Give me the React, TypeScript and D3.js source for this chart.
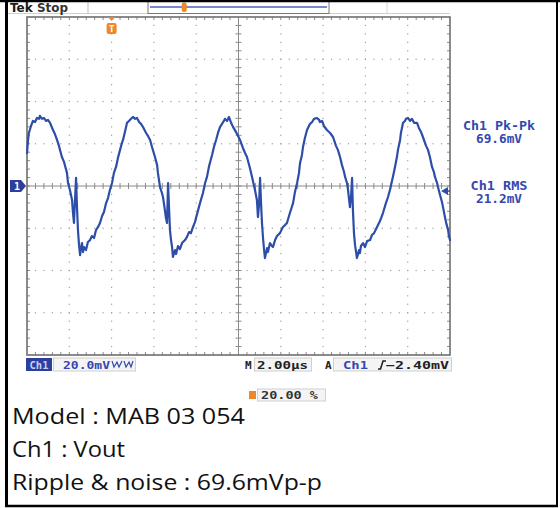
import React from "react";
import * as d3 from "d3";

// ---- data (time in µs, voltage in mV) ----
const timeUs = [
  0.0, 0.05, 0.09, 0.19, 0.28, 0.38, 0.47, 0.57, 0.61, 0.71, 0.8, 0.9, 0.99, 1.09, 1.23, 1.32, 1.42, 1.51, 1.65, 1.75,
  1.89, 1.94, 2.03, 2.13, 2.17, 2.22, 2.27, 2.32, 2.36, 2.41, 2.46, 2.51, 2.55, 2.6, 2.65, 2.7, 2.79, 2.88, 2.98, 3.07,
  3.17, 3.26, 3.36, 3.45, 3.55, 3.64, 3.74, 3.83, 3.92, 4.02, 4.11, 4.21, 4.3, 4.4, 4.49, 4.54, 4.63, 4.73, 4.82, 4.92,
  5.01, 5.11, 5.2, 5.3, 5.39, 5.48, 5.63, 5.72, 5.82, 5.91, 6.05, 6.15, 6.19, 6.29, 6.38, 6.43, 6.52, 6.57, 6.62, 6.67,
  6.71, 6.76, 6.81, 6.86, 6.9, 7.0, 7.05, 7.14, 7.23, 7.33, 7.47, 7.56, 7.66, 7.75, 7.85, 7.94, 8.04, 8.18, 8.32, 8.42,
  8.51, 8.61, 8.75, 8.84, 8.94, 9.03, 9.13, 9.22, 9.31, 9.36, 9.46, 9.55, 9.65, 9.74, 9.88, 9.98, 10.07, 10.21, 10.31, 10.4,
  10.54, 10.64, 10.78, 10.87, 10.92, 10.97, 11.02, 11.06, 11.11, 11.16, 11.21, 11.25, 11.35, 11.39, 11.49, 11.58, 11.63, 11.73, 11.82, 11.96,
  12.1, 12.2, 12.29, 12.43, 12.58, 12.67, 12.77, 12.86, 12.91, 13.0, 13.05, 13.14, 13.24, 13.33, 13.38, 13.48, 13.57, 13.71, 13.81, 13.85,
  13.95, 14.04, 14.18, 14.33, 14.47, 14.61, 14.7, 14.8, 14.89, 14.99, 15.04, 15.13, 15.18, 15.22, 15.27, 15.32, 15.37, 15.41, 15.46, 15.51,
  15.56, 15.6, 15.7, 15.74, 15.79, 15.89, 15.98, 16.08, 16.22, 16.31, 16.41, 16.55, 16.69, 16.83, 16.97, 17.07, 17.16, 17.3, 17.4, 17.49,
  17.54, 17.64, 17.68, 17.78, 17.87, 17.92, 18.01, 18.11, 18.2, 18.3, 18.44, 18.53, 18.63, 18.72, 18.87, 18.96, 19.05, 19.15, 19.24, 19.29,
  19.39, 19.43, 19.53, 19.62, 19.67, 19.76, 19.81, 19.91, 19.95, 20.0,
];
const voltageMv = [
  15.6, 21.8, 25.1, 28.4, 30.8, 30.3, 32.2, 31.8, 33.2, 31.8, 32.2, 30.8, 31.3, 29.9, 26.5, 24.6, 21.8, 19.0, 13.7, 11.4,
  6.2, 1.4, -1.9, -6.6, -12.3, -17.5, -6.6, 3.8, -9.0, -20.9, -28.0, -32.7, -29.4, -27.0, -31.3, -28.9, -30.3, -26.5, -25.6, -23.7,
  -24.6, -20.9, -19.4, -17.5, -14.2, -12.3, -8.1, -5.7, -1.9, 1.4, 6.2, 9.0, 13.3, 17.1, 20.4, 21.8, 25.6, 29.9, 30.8, 31.8,
  32.7, 31.8, 32.2, 30.3, 29.4, 28.0, 25.1, 23.7, 21.8, 18.5, 13.7, 10.0, 6.2, -0.5, -3.3, -5.2, -11.4, -15.2, -17.5, 1.4,
  -9.0, -20.9, -25.6, -28.9, -33.6, -30.3, -32.2, -28.4, -29.9, -27.0, -25.6, -24.2, -21.8, -22.3, -19.4, -17.1, -13.3, -8.1, -3.3, 1.4,
  4.3, 9.5, 14.7, 18.5, 21.8, 25.1, 28.0, 29.4, 30.8, 31.8, 30.8, 32.7, 29.9, 28.0, 25.6, 23.7, 21.8, 18.0, 15.6, 13.7,
  8.5, 4.3, -1.9, -6.6, -14.7, -9.0, 3.8, -6.6, -17.5, -24.6, -30.3, -34.1, -29.4, -31.3, -27.0, -28.4, -28.9, -25.6, -23.7, -22.3,
  -19.4, -18.5, -17.5, -12.8, -8.1, -2.8, 1.4, 6.2, 10.9, 14.7, 18.5, 22.7, 26.5, 28.4, 29.4, 30.3, 31.8, 32.2, 31.3, 30.3,
  30.8, 28.4, 26.5, 25.1, 23.2, 19.0, 17.1, 13.7, 10.0, 6.6, 4.3, 1.4, -1.9, -5.7, -10.0, -5.2, 3.8, -11.4, -22.3, -28.0,
  -31.3, -34.1, -30.3, -31.8, -28.4, -27.0, -28.9, -26.1, -25.6, -23.2, -22.3, -19.4, -16.6, -12.8, -8.1, -5.2, -1.9, 4.3, 9.0, 13.7,
  17.1, 21.8, 25.1, 29.9, 30.8, 31.8, 32.2, 30.8, 31.8, 29.9, 29.9, 27.5, 25.6, 23.2, 19.0, 17.1, 13.7, 9.0, 6.6, 4.3,
  1.4, -0.5, -4.3, -7.6, -10.0, -14.7, -17.1, -20.9, -23.7, -25.6,
];

const timeDomainUs = [0, 20];
const voltDomainMv = [-80, 80];
const xDivisions = 10;
const yDivisions = 8;
const minorPerDiv = 5;
const triggerLevelMv = -2.4;
const triggerPositionPct = 20;

const measureLabels = ["Ch1 Pk-Pk", "Ch1 RMS"];
const measureValues = ["69.6mV", "21.2mV"];
const measureLabelWidths = [72, 57];
const infoLines = ["Model : MAB 03 054", "Ch1 : Vout", "Ripple & noise : 69.6mVp-p"];
const infoWidths = [233, 113, 310];

const BLUE = "#2d4ea8";
const ORANGE = "#f0872a";
const MONO = "'DejaVu Sans Mono', monospace";

export default function App() {
  const W = 560;
  const H = 508;
  const x0 = 27, x1 = 450, y0 = 17, y1 = 355;
  const x = d3.scaleLinear().domain(timeDomainUs).range([x0, x1]);
  const y = d3.scaleLinear().domain(voltDomainMv).range([y1, y0]);
  const divW = (x1 - x0) / xDivisions;
  const divH = (y1 - y0) / yDivisions;
  const pts: [number, number][] = timeUs.map((t, i) => [t, voltageMv[i]]);
  const line = d3
    .line<[number, number]>()
    .x((d) => x(d[0]))
    .y((d) => y(d[1]));

  const cx = (x0 + x1) / 2;
  const cy = y(0);

  const grid: React.ReactNode[] = [];
  for (let i = 1; i < xDivisions; i++) {
    if (i === xDivisions / 2) continue;
    const gx = x0 + i * divW;
    for (let k = 1; k < yDivisions * minorPerDiv; k++) {
      grid.push(<rect key={`vd${i}-${k}`} x={gx - 0.6} y={y0 + (k * divH) / minorPerDiv - 0.6} width={1.2} height={1.2} fill="#a0a0a0" />);
    }
  }
  for (let j = 1; j < yDivisions; j++) {
    if (j === yDivisions / 2) continue;
    const gy = y0 + j * divH;
    for (let k = 1; k < xDivisions * minorPerDiv; k++) {
      grid.push(<rect key={`hd${j}-${k}`} x={x0 + (k * divW) / minorPerDiv - 0.6} y={gy - 0.6} width={1.2} height={1.2} fill="#a0a0a0" />);
    }
  }
  grid.push(<line key="cax" x1={x0} x2={x1} y1={cy} y2={cy} stroke="#8a8a8a" strokeWidth={1} />);
  grid.push(<line key="cay" x1={cx} x2={cx} y1={y0} y2={y1} stroke="#8a8a8a" strokeWidth={1} />);
  for (let k = 1; k < xDivisions * minorPerDiv; k++) {
    const tx = x0 + (k * divW) / minorPerDiv;
    grid.push(<line key={`ctx${k}`} x1={tx} x2={tx} y1={cy - 3} y2={cy + 3} stroke="#8a8a8a" />);
    grid.push(<line key={`ttx${k}`} x1={tx} x2={tx} y1={y0} y2={y0 + 3} stroke="#8a8a8a" />);
    grid.push(<line key={`btx${k}`} x1={tx} x2={tx} y1={y1 - 3} y2={y1} stroke="#8a8a8a" />);
  }
  for (let k = 1; k < yDivisions * minorPerDiv; k++) {
    const ty = y0 + (k * divH) / minorPerDiv;
    grid.push(<line key={`cty${k}`} x1={cx - 3} x2={cx + 3} y1={ty} y2={ty} stroke="#8a8a8a" />);
    grid.push(<line key={`lty${k}`} x1={x0} x2={x0 + 3} y1={ty} y2={ty} stroke="#8a8a8a" />);
    grid.push(<line key={`rty${k}`} x1={x1 - 3} x2={x1} y1={ty} y2={ty} stroke="#8a8a8a" />);
  }

  const trigX = x(timeDomainUs[0] + ((timeDomainUs[1] - timeDomainUs[0]) * triggerPositionPct) / 100);
  const trigY = y(triggerLevelMv);
  const recX0 = 148, recX1 = 329;
  const recMarkX = recX0 + ((recX1 - recX0) * triggerPositionPct) / 100;

  return (
    <svg width={W} height={H} style={{ position: "absolute", left: 0, top: 0, background: "#fff" }} xmlns="http://www.w3.org/2000/svg">
      <rect x={0} y={0} width={W} height={H} fill="#fff" />
      {/* header */}
      <line x1={8} x2={recX0} y1={13.5} y2={13.5} stroke="#cfcfcf" />
      <line x1={recX1} x2={x1} y1={13.5} y2={13.5} stroke="#cfcfcf" />
      <line x1={88} x2={88} y1={1} y2={13.5} stroke="#bdbdbd" />
      <line x1={387} x2={387} y1={1} y2={13.5} stroke="#d5d5d5" />
      <text x={10} y={11.5} fontFamily="'DejaVu Sans', sans-serif" fontWeight="bold" fontSize={12} fill="#1a1a1a">Tek</text>
      <text x={37} y={11.5} fontFamily="'DejaVu Sans', sans-serif" fontWeight="bold" fontSize={12} fill="#333" textLength={31} lengthAdjust="spacingAndGlyphs">Stop</text>
      <rect x={recX0} y={1} width={recX1 - recX0} height={12.5} fill="#fff" stroke="#777" strokeWidth={1} />
      <line x1={recX0 + 2} x2={recX1 - 2} y1={7} y2={7} stroke="#4a5fc0" strokeWidth={1.6} />
      <rect x={recMarkX - 2.5} y={2.5} width={5} height={9.5} rx={2} fill={ORANGE} />

      {/* graticule */}
      {grid}
      <rect x={x0} y={y0} width={x1 - x0} height={y1 - y0} fill="none" stroke="#6e6e6e" strokeWidth={1.6} />

      {/* trigger position marker */}
      <path d={`M${trigX - 4},${y0} L${trigX + 4},${y0} L${trigX},${y0 + 4} Z`} fill={ORANGE} />
      <rect x={trigX - 5} y={y0 + 6} width={10} height={11} rx={2} fill={ORANGE} />
      <text x={trigX} y={y0 + 15} textAnchor="middle" fontFamily={MONO} fontWeight="bold" fontSize={9} fill="#fff">T</text>

      {/* ground marker */}
      <path d={`M10,${cy - 6} L21,${cy - 6} L26,${cy} L21,${cy + 6} L10,${cy + 6} Z`} fill="#2c3f9c" />
      <text x={17} y={cy + 3.5} textAnchor="middle" fontFamily={MONO} fontWeight="bold" fontSize={10} fill="#fff">1</text>

      {/* trace */}
      <path d={line(pts) || ""} fill="none" stroke={BLUE} strokeWidth={2.2} strokeLinejoin="round" strokeLinecap="round" />

      {/* trigger level arrow */}
      <path d={`M${x1 - 9},${trigY} L${x1 - 2},${trigY - 4} L${x1 - 2},${trigY + 4} Z`} fill={BLUE} />
      <line x1={x1 - 6} x2={x1} y1={trigY} y2={trigY} stroke={BLUE} strokeWidth={1.5} />

      {/* measurements */}
      {measureLabels.map((m, i) => (
        <g key={m}>
          <text x={499} y={130 + i * 60} textAnchor="middle" fontFamily={MONO} fontWeight="bold" fontSize={12} fill="#3447b0" textLength={measureLabelWidths[i]} lengthAdjust="spacingAndGlyphs">{m}</text>
          <text x={499} y={142.5 + i * 60} textAnchor="middle" fontFamily={MONO} fontWeight="bold" fontSize={12} fill="#3447b0" textLength={46} lengthAdjust="spacingAndGlyphs">{measureValues[i]}</text>
        </g>
      ))}

      {/* status bar */}
      <rect x={26} y={358} width={26} height={13} fill="#2c3f9c" />
      <text x={39} y={368.5} textAnchor="middle" fontFamily={MONO} fontWeight="bold" fontSize={10.5} fill="#c8d0f2">Ch1</text>
      <rect x={53.5} y={358} width={82} height={13} fill="#f4f4f4" stroke="#d0d0d0" />
      <text x={63} y={368.5} fontFamily={MONO} fontWeight="bold" fontSize={11} fill="#3447b0" textLength={47} lengthAdjust="spacingAndGlyphs">20.0mV</text>
      <path d="M112,361 L114,367 L117,362 L119,367 L122,361" fill="none" stroke="#3447b0" strokeWidth={1.2} />
      <path d="M124,361 L126,367 L129,362 L131,367 L133,361" fill="none" stroke="#3447b0" strokeWidth={1.2} />

      <text x={245} y={368.5} fontFamily={MONO} fontWeight="bold" fontSize={11} fill="#222">M</text>
      <rect x={254.5} y={358} width={57} height={13} fill="#f4f4f4" stroke="#d0d0d0" />
      <text x={257} y={368.5} fontFamily={MONO} fontWeight="bold" fontSize={11} fill="#222" textLength={51} lengthAdjust="spacingAndGlyphs">2.00µs</text>
      <text x={325} y={368.5} fontFamily={MONO} fontWeight="bold" fontSize={11} fill="#222">A</text>
      <rect x={333.5} y={358} width={118} height={13} fill="#f4f4f4" stroke="#d0d0d0" />
      <text x={343} y={368.5} fontFamily={MONO} fontWeight="bold" fontSize={11} fill="#3447b0" textLength={25} lengthAdjust="spacingAndGlyphs">Ch1</text>
      <path d="M378,369 L380.5,369 L383,361 L386,361" fill="none" stroke="#222" strokeWidth={1.6} />
      <text x={386} y={368.5} fontFamily={MONO} fontWeight="bold" fontSize={11} fill="#222" textLength={63} lengthAdjust="spacingAndGlyphs">{"\u22122.40mV"}</text>

      <rect x={249} y={391} width={7} height={8} fill={ORANGE} />
      <rect x={257.5} y={389} width={68} height={12} fill="#f4f4f4" stroke="#d0d0d0" />
      <text x={261} y={399} fontFamily={MONO} fontWeight="bold" fontSize={10.5} fill="#333" textLength={57} lengthAdjust="spacingAndGlyphs">20.00 %</text>

      {/* info text */}
      {infoLines.map((s, i) => (
        <text key={s} x={12} y={424 + i * 33} fontFamily="'Open Sans', sans-serif" fontSize={21} fill="#111" textLength={infoWidths[i]} lengthAdjust="spacingAndGlyphs">{s}</text>
      ))}

      {/* outer frame */}
      <line x1={0} x2={W} y1={1} y2={1} stroke="#000" strokeWidth={2.5} />
      <line x1={6.5} x2={6.5} y1={0} y2={507} stroke="#000" strokeWidth={3} />
      <line x1={5} x2={558} y1={506} y2={506} stroke="#000" strokeWidth={2.5} />
      <line x1={557} x2={557} y1={0} y2={507} stroke="#000" strokeWidth={2} />
    </svg>
  );
}
